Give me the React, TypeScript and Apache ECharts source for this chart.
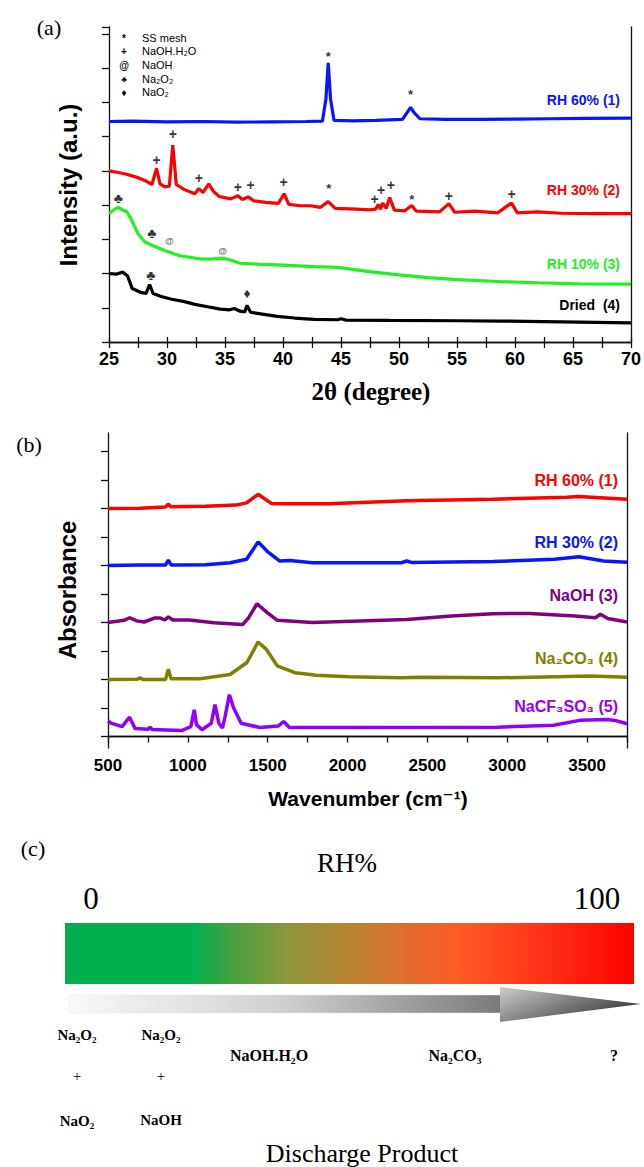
import React, { useEffect, useRef } from "react";
import * as echarts from "echarts";

// ---------- Panel (a): XRD, 2θ vs intensity (a.u., offset) ----------
const xrdRH60: [number, number][] = [
  [25, 6.44], [27, 6.45], [30, 6.43], [33, 6.44], [36, 6.42], [39, 6.43], [42, 6.44],
  [43.4, 6.45], [43.7, 7.1], [43.9, 8.15], [44.1, 7.1], [44.4, 6.47], [46, 6.46], [48, 6.47],
  [50.3, 6.5], [50.7, 6.7], [51.0, 6.85], [51.3, 6.7], [51.8, 6.52], [54, 6.5], [57, 6.5],
  [60, 6.51], [63, 6.52], [66, 6.53], [70, 6.54],
];
const xrdRH30: [number, number][] = [
  [25, 5.0], [25.8, 4.95], [26.5, 4.9], [27.5, 4.8], [28.2, 4.7], [28.7, 4.6], [29.1, 5.07],
  [29.4, 4.62], [29.8, 4.53], [30.2, 4.55], [30.5, 5.75], [30.8, 4.6], [31.5, 4.45], [32.4, 4.33],
  [32.75, 4.48], [33.1, 4.36], [33.6, 4.62], [34.0, 4.4], [34.5, 4.25], [35.5, 4.18], [36.1, 4.27],
  [36.5, 4.16], [37.0, 4.24], [37.5, 4.12], [38.5, 4.08], [39.6, 4.05], [40.1, 4.33], [40.5, 4.02],
  [41.5, 3.98], [42.4, 3.98], [43.2, 3.93], [43.9, 4.1], [44.5, 3.9], [46.3, 3.88], [47.5, 3.86],
  [48.0, 3.88], [48.2, 4.02], [48.4, 3.88], [48.6, 4.06], [48.9, 3.9], [49.2, 4.22], [49.6, 3.85],
  [50.5, 3.83], [51.1, 3.99], [51.5, 3.82], [53.5, 3.8], [54.3, 4.04], [54.8, 3.79], [56.5, 3.82],
  [58.5, 3.77], [59.7, 4.06], [60.2, 3.77], [61.9, 3.8], [64, 3.76], [67, 3.75], [70, 3.75],
];
const xrdRH10: [number, number][] = [
  [25, 3.75], [25.5, 3.88], [25.8, 3.93], [26.2, 3.85], [26.5, 3.82], [26.9, 3.6], [27.5, 3.16],
  [28.1, 2.92], [28.8, 2.81], [29.8, 2.67], [31.1, 2.52], [33.0, 2.42], [34.0, 2.43], [34.8, 2.45],
  [35.6, 2.38], [36.3, 2.3], [38, 2.27], [39.5, 2.25], [42.7, 2.2], [44.7, 2.18], [46, 2.12],
  [47.6, 2.05], [50, 1.96], [52.5, 1.88], [55, 1.82], [59, 1.76], [62, 1.73], [65.5, 1.7], [70, 1.69],
];
const xrdDried: [number, number][] = [
  [25, 2.0], [25.6, 1.98], [26.2, 2.04], [26.6, 1.93], [27.0, 1.56], [27.8, 1.44], [28.2, 1.42],
  [28.5, 1.68], [28.8, 1.42], [29.5, 1.33], [30.4, 1.25], [31.5, 1.18], [32.4, 1.1], [33.5, 1.03],
  [34.6, 0.96], [35.4, 0.94], [35.8, 0.98], [36.3, 0.9], [36.7, 0.88], [36.9, 1.07], [37.2, 0.87],
  [38.5, 0.8], [39.5, 0.75], [41, 0.7], [42.7, 0.66], [44.7, 0.65], [45.0, 0.68], [45.4, 0.64],
  [49.2, 0.63], [55, 0.62], [59, 0.61], [64, 0.59], [70, 0.56],
];

// peak markers (2θ, offset intensity)
const markStar: [number, number][] = [[43.9, 8.35], [51.0, 7.23], [43.95, 4.47], [51.1, 4.16]];
const markPlus: [number, number][] = [
  [29.1, 5.31], [30.5, 6.07], [32.75, 4.79], [36.1, 4.53], [37.2, 4.58], [40.05, 4.66],
  [47.9, 4.17], [48.45, 4.43], [49.3, 4.6], [54.3, 4.25], [59.7, 4.33],
];
const markClub: [number, number][] = [[25.8, 4.2], [28.7, 3.18], [28.6, 1.95]];
const markAt: [number, number][] = [[30.2, 2.94], [34.8, 2.67]];
const markDiamond: [number, number][] = [[36.9, 1.42]];

const legendSymbols = ["*", "+", "@", "♣", "♦"];
const legendTexts = ["SS mesh", "NaOH.H₂O", "NaOH", "Na₂O₂", "NaO₂"];
const xrdNames = ["RH 60% (1)", "RH 30% (2)", "RH 10% (3)", "Dried\u00a0 (4)"];

// ---------- Panel (b): FTIR ----------
const ftRH60: [number, number][] = [
  [500, 8.0], [700, 8.01], [860, 8.05], [878, 8.15], [895, 8.06], [1111, 8.08], [1300, 8.12],
  [1368, 8.2], [1440, 8.5], [1523, 8.18], [1625, 8.17], [1882, 8.17], [2370, 8.27], [2910, 8.33],
  [3372, 8.4], [3449, 8.42], [3552, 8.39], [3750, 8.33],
];
const ftRH30: [number, number][] = [
  [500, 6.0], [700, 6.02], [860, 6.02], [878, 6.19], [895, 6.02], [1111, 6.03], [1266, 6.1],
  [1368, 6.22], [1440, 6.83], [1497, 6.5], [1574, 6.16], [1638, 6.18], [1779, 6.1], [2340, 6.1],
  [2370, 6.16], [2400, 6.11], [2910, 6.14], [3295, 6.22], [3449, 6.31], [3603, 6.16], [3750, 6.12],
];
const ftNaOH: [number, number][] = [
  [500, 4.0], [600, 4.08], [636, 4.17], [680, 4.06], [726, 4.02], [790, 4.16], [829, 4.16],
  [855, 4.09], [878, 4.2], [906, 4.09], [1009, 4.09], [1163, 3.99], [1343, 3.93], [1381, 4.17],
  [1433, 4.66], [1497, 4.35], [1561, 4.08], [1780, 4.0], [2370, 4.11], [2652, 4.23], [2910, 4.31],
  [3140, 4.32], [3423, 4.23], [3552, 4.17], [3583, 4.29], [3630, 4.14], [3750, 4.02],
];
const ftNa2CO3: [number, number][] = [
  [500, 2.0], [680, 2.01], [700, 2.06], [720, 2.0], [860, 2.0], [878, 2.36], [895, 2.03],
  [1077, 2.03], [1264, 2.18], [1370, 2.6], [1440, 3.32], [1490, 3.07], [1560, 2.48], [1670, 2.24],
  [1770, 2.18], [1800, 2.15], [2009, 2.1], [2335, 2.06], [2463, 2.08], [2940, 2.06], [3522, 2.13],
  [3750, 2.08],
];
const ftNaCF3SO3: [number, number][] = [
  [500, 0.55], [519, 0.47], [588, 0.35], [635, 0.68], [670, 0.28], [751, 0.26], [763, 0.33],
  [775, 0.25], [961, 0.21], [1019, 0.35], [1040, 0.94], [1054, 0.42], [1089, 0.24], [1147, 0.47],
  [1170, 1.12], [1194, 0.47], [1217, 0.3], [1233, 0.7], [1260, 1.47], [1287, 1.0], [1334, 0.47],
  [1450, 0.32], [1566, 0.37], [1600, 0.53], [1636, 0.32], [2009, 0.32], [2940, 0.33], [3290, 0.4],
  [3453, 0.57], [3628, 0.6], [3680, 0.56], [3750, 0.45],
];
const ftNames = ["RH 60% (1)", "RH 30% (2)", "NaOH (3)", "Na₂CO₃ (4)", "NaCF₃SO₃ (5)"];
const ftTicks = [0, 1, 2, 3, 4, 5, 6, 7, 8, 9, 10];

// ---------- Panel (c) ----------
const rhEnds = ["0", "100"];
const products = ["NaOH.H₂O", "Na₂CO₃", "?"];

const SANS = "Arial, 'Liberation Sans', 'DejaVu Sans', sans-serif";
const SERIF = "'Times New Roman', 'Liberation Serif', 'DejaVu Serif', serif";

function txt(x: number, y: number, text: string, o: any = {}) {
  const align = o.align || "center";
  const va = o.va || "middle";
  return {
    type: "text",
    x,
    y,
    rotation: o.rotation || 0,
    silent: true,
    style: {
      text,
      fill: o.color || "#000",
      fontSize: o.size || 12,
      fontFamily: o.family || SANS,
      fontWeight: o.weight || "normal",
      align,
      textAlign: align,
      verticalAlign: va,
      textVerticalAlign: va,
    },
  };
}

function markSeries(data: [number, number][], ch: string, size: number, color = "#000") {
  return {
    type: "scatter",
    xAxisIndex: 0,
    yAxisIndex: 0,
    silent: true,
    symbolSize: 1,
    itemStyle: { color: "rgba(0,0,0,0)" },
    data,
    label: {
      show: true,
      position: "inside",
      formatter: ch,
      fontSize: size,
      color,
      fontFamily: SANS,
      fontWeight: "bold",
    },
    labelLayout: { hideOverlap: false },
    z: 5,
  };
}

function lineSeries(data: [number, number][], color: string, axis: number, width: number) {
  return {
    type: "line",
    xAxisIndex: axis === 0 ? 0 : 2,
    yAxisIndex: axis === 0 ? 0 : 2,
    data,
    showSymbol: false,
    symbol: "none",
    lineStyle: { color, width },
    silent: true,
  };
}

const axisLineStyle = { color: "#111", width: 1.3 };

export default function App() {
  const ref = useRef<HTMLDivElement>(null);
  useEffect(() => {
    document.body.style.margin = "0";
    const chart = echarts.init(ref.current!, null, { renderer: "svg" });
    const xrdColors = ["#0a14ff", "#ff0000", "#22f022", "#000000"];
    const xrdLabelY = [100, 190, 264, 305];
    const ftColors = ["#ff0000", "#0a14ff", "#800080", "#808000", "#8f00ff"];
    const ftLabelY = [480, 542, 595, 658, 706];

    const graphics: any[] = [];
    // panel labels
    graphics.push(txt(49, 27, "(a)", { size: 22, family: SERIF }));
    graphics.push(txt(29, 444, "(b)", { size: 22, family: SERIF }));
    graphics.push(txt(33, 848, "(c)", { size: 22, family: SERIF }));
    // axis names
    graphics.push(txt(68, 185, "Intensity (a.u.)", { size: 24, weight: "bold", rotation: Math.PI / 2 }));
    graphics.push(txt(371, 391, "2θ (degree)", { size: 25, weight: "bold", family: SERIF }));
    graphics.push(txt(67, 590, "Absorbance", { size: 24, weight: "bold", rotation: Math.PI / 2 }));
    graphics.push(txt(368, 798, "Wavenumber (cm⁻¹)", { size: 21, weight: "bold" }));
    // legend (a)
    const legY = [38, 51, 65, 79, 92];
    legendSymbols.forEach((s, i) => {
      graphics.push(txt(124, legY[i], s, { size: i === 3 ? 8 : 10, weight: "bold" }));
      graphics.push(txt(142, legY[i], legendTexts[i], { size: 11, align: "left" }));
    });
    xrdNames.forEach((n, i) =>
      graphics.push(txt(620, xrdLabelY[i], n, { size: 14, weight: "bold", color: xrdColors[i], align: "right" }))
    );
    ftNames.forEach((n, i) =>
      graphics.push(txt(618, ftLabelY[i], n, { size: 16, weight: "bold", color: ftColors[i], align: "right" }))
    );
    // panel (c)
    graphics.push(txt(347, 863, "RH%", { size: 27, family: SERIF }));
    graphics.push(txt(91, 898, rhEnds[0], { size: 31, family: SERIF }));
    graphics.push(txt(597, 898, rhEnds[1], { size: 31, family: SERIF }));
    graphics.push({
      type: "rect",
      silent: true,
      shape: { x: 65, y: 923, width: 569, height: 61 },
      style: {
        fill: new echarts.graphic.LinearGradient(0, 0, 1, 0, [
          { offset: 0, color: "#00b04f" },
          { offset: 0.22, color: "#00b04f" },
          { offset: 0.3, color: "#4ca040" },
          { offset: 0.39, color: "#8c963c" },
          { offset: 0.47, color: "#ab8a35" },
          { offset: 0.54, color: "#c97a30" },
          { offset: 0.61, color: "#e26a2e" },
          { offset: 0.69, color: "#ff5a25" },
          { offset: 0.83, color: "#ff3518" },
          { offset: 1, color: "#ff0000" },
        ]),
      },
    });
    graphics.push({
      type: "polygon",
      silent: true,
      shape: { points: [[69, 995], [501, 995], [501, 1013], [69, 1013]] },
      style: {
        fill: new echarts.graphic.LinearGradient(0, 0, 1, 0, [
          { offset: 0, color: "#fafafa" },
          { offset: 0.5, color: "#cfcfcf" },
          { offset: 1, color: "#7a7a7a" },
        ]),
        stroke: "#e6e6e6",
        lineWidth: 0.5,
      },
    });
    graphics.push({
      type: "polygon",
      silent: true,
      shape: { points: [[500, 987], [641, 1004], [500, 1022]] },
      style: {
        fill: new echarts.graphic.LinearGradient(0, 0, 1, 0.6, [
          { offset: 0, color: "#cdcdcd" },
          { offset: 1, color: "#3a3a3a" },
        ]),
      },
    });
    const chemFont = { size: 15, weight: "bold", family: SERIF };
    graphics.push(txt(77, 1035, "Na₂O₂", chemFont));
    graphics.push(txt(77, 1076, "+", { size: 15, family: SERIF }));
    graphics.push(txt(77, 1121, "NaO₂", chemFont));
    graphics.push(txt(161, 1035, "Na₂O₂", chemFont));
    graphics.push(txt(161, 1076, "+", { size: 15, family: SERIF }));
    graphics.push(txt(161, 1120, "NaOH", chemFont));
    const prodX = [269, 455, 614];
    products.forEach((p, i) => graphics.push(txt(prodX[i], 1055, p, { size: 16, weight: "bold", family: SERIF })));
    graphics.push(txt(362, 1153, "Discharge Product", { size: 26, family: SERIF }));

    const tickLbl = (size: number) => ({
      fontFamily: SANS,
      fontWeight: "bold",
      fontSize: size,
      color: "#000",
      formatter: (v: number) => String(v),
    });

    chart.setOption({
      animation: false,
      backgroundColor: "#fff",
      grid: [
        { left: 109, top: 27, width: 524, height: 315 },
        { left: 108, top: 433, width: 519, height: 315 },
      ],
      xAxis: [
        {
          gridIndex: 0, type: "value", min: 25, max: 70, interval: 5, position: "bottom",
          axisLine: { lineStyle: axisLineStyle },
          axisTick: { length: 6, lineStyle: axisLineStyle },
          minorTick: { show: true, splitNumber: 2, length: 6, lineStyle: axisLineStyle },
          axisLabel: { ...tickLbl(18), margin: 8 },
          splitLine: { show: false },
        },
        {
          gridIndex: 0, type: "value", min: 25, max: 70, interval: 5, position: "top",
          axisLine: { lineStyle: axisLineStyle },
          axisTick: { length: 5, lineStyle: axisLineStyle },
          minorTick: { show: true, splitNumber: 2, length: 5, lineStyle: axisLineStyle },
          axisLabel: { show: false },
          splitLine: { show: false },
        },
        {
          gridIndex: 1, type: "value", min: 500, max: 3750, interval: 500, position: "bottom",
          axisLine: { lineStyle: axisLineStyle },
          axisTick: { length: 6, lineStyle: axisLineStyle },
          minorTick: { show: true, splitNumber: 2, length: 6, lineStyle: axisLineStyle },
          axisLabel: { ...tickLbl(17), margin: 9, showMaxLabel: false },
          splitLine: { show: false },
        },
        {
          gridIndex: 1, type: "value", min: 500, max: 3750, position: "top",
          axisLine: { lineStyle: axisLineStyle },
          axisTick: { show: false },
          axisLabel: { show: false },
          splitLine: { show: false },
        },
      ],
      yAxis: [
        {
          gridIndex: 0, type: "value", min: 0, max: 9.2, interval: 1, position: "left",
          axisLine: { show: true, lineStyle: axisLineStyle },
          axisTick: { show: true, length: 7, lineStyle: axisLineStyle },
          axisLabel: { show: false },
          splitLine: { show: false },
        },
        {
          gridIndex: 0, type: "value", min: 0, max: 9.2, position: "right",
          axisLine: { show: true, lineStyle: axisLineStyle },
          axisTick: { show: false },
          axisLabel: { show: false },
          splitLine: { show: false },
        },
        {
          gridIndex: 1, type: "value", min: -0.4, max: 10.65, position: "left",
          axisLine: { show: true, lineStyle: axisLineStyle },
          axisTick: { show: true, length: 7, lineStyle: axisLineStyle, customValues: ftTicks },
          axisLabel: { show: false, customValues: ftTicks },
          splitLine: { show: false },
        },
        {
          gridIndex: 1, type: "value", min: -0.4, max: 10.65, position: "right",
          axisLine: { show: true, lineStyle: axisLineStyle },
          axisTick: { show: false },
          axisLabel: { show: false },
          splitLine: { show: false },
        },
      ],
      series: [
        lineSeries(xrdRH60, xrdColors[0], 0, 3.2),
        lineSeries(xrdRH30, xrdColors[1], 0, 3.2),
        lineSeries(xrdRH10, xrdColors[2], 0, 3.2),
        lineSeries(xrdDried, xrdColors[3], 0, 3.2),
        markSeries(markStar, "*", 13),
        markSeries(markPlus, "+", 14),
        markSeries(markClub, "♣", 14),
        markSeries(markAt, "@", 9, "#444"),
        markSeries(markDiamond, "♦", 14),
        lineSeries(ftRH60, ftColors[0], 1, 3.5),
        lineSeries(ftRH30, ftColors[1], 1, 3.5),
        lineSeries(ftNaOH, ftColors[2], 1, 3.5),
        lineSeries(ftNa2CO3, ftColors[3], 1, 3.5),
        lineSeries(ftNaCF3SO3, ftColors[4], 1, 3.5),
      ],
      graphic: { elements: graphics },
    });
    return () => chart.dispose();
  }, []);
  return <div ref={ref} style={{ width: 644, height: 1167 }} />;
}
